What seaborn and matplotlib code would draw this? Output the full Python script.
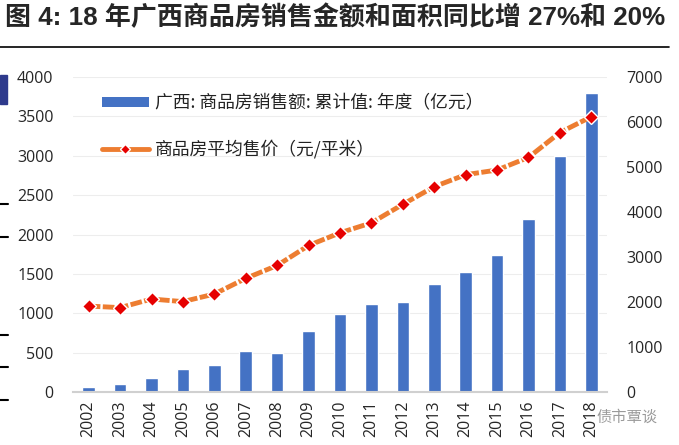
import numpy as np
import matplotlib
matplotlib.use('Agg')
import matplotlib.pyplot as plt
import seaborn as sns
from matplotlib.patches import Patch, Rectangle
from matplotlib.lines import Line2D

# data
years = ['2002', '2003', '2004', '2005', '2006', '2007', '2008', '2009', '2010',
         '2011', '2012', '2013', '2014', '2015', '2016', '2017', '2018']
sales = [65, 100, 175, 290, 340, 515, 500, 775, 987,
         1114, 1143, 1376, 1523, 1734, 2199, 3000, 3801]
price = [1910, 1876, 2067, 2009, 2178, 2525, 2813, 3256, 3538,
         3759, 4171, 4563, 4829, 4933, 5213, 5766, 6118]

bar_label = '广西: 商品房销售额: 累计值: 年度（亿元）'
line_label = '商品房平均售价（元/平米）'
title = '图 4: 18 年广西商品房销售金额和面积同比增 27%和 20%'

sns.set_style('white')
plt.rcParams['font.family'] = ['Open Sans', 'Noto Sans CJK SC', 'DejaVu Sans']

fig = plt.figure(figsize=(6.79, 4.45), dpi=100)
ax = fig.add_axes([0.1075, 0.119, 0.7865, 0.708])

sns.barplot(x=years, y=sales, color='#4472C4', width=0.4, saturation=1, ax=ax)
ax.set_ylim(0, 4000)
ax.set_yticks(range(0, 4001, 500))
ax.set_xlim(-0.5, len(years) - 0.5)
ax.grid(axis='y', color='#EDEDED', lw=0.8)
ax.set_axisbelow(True)
for s in ['top', 'right', 'left']:
    ax.spines[s].set_visible(False)
ax.spines['bottom'].set_color('#D0D0D0')
ax.spines['bottom'].set_linewidth(1.5)
ax.tick_params(axis='x', rotation=90, labelsize=11.5, length=0, pad=6)
ax.tick_params(axis='y', labelsize=11.5, length=0, pad=14)
# category boundary ticks on the x axis
ax.set_xticks(np.arange(-0.5, len(years), 1), minor=True)
ax.tick_params(axis='x', which='minor', length=5, color='#D0D0D0', width=1.5)

ax2 = ax.twinx()
sns.lineplot(x=np.arange(len(years)), y=price, ax=ax2, color='#ED7D31', lw=3.5,
             linestyle=(0, (2.4, 0.5)), marker='D', markersize=7,
             markerfacecolor='#E60000', markeredgecolor='white', markeredgewidth=1)
ax2.set_ylim(0, 7000)
ax2.set_yticks(range(0, 7001, 1000))
for s in ['top', 'right', 'left', 'bottom']:
    ax2.spines[s].set_visible(False)
ax2.tick_params(axis='y', labelsize=11.5, length=0, pad=14)
ax2.set_ylabel('')
ax.set_ylabel('')

handles = [Patch(facecolor='#4472C4', edgecolor='none'),
           Line2D([], [], color='#ED7D31', lw=3.5, marker='D', markersize=5,
                  markerfacecolor='#E60000', markeredgecolor='white')]
leg = ax.legend(handles, [bar_label, line_label], loc='upper left',
                bbox_to_anchor=(0.025, 0.995), frameon=False,
                handlelength=2.6, handleheight=0.5, labelspacing=1.55, handletextpad=0.35,
                prop={'family': ['Noto Sans CJK SC'], 'size': 12.8})
for t in leg.get_texts():
    t.set_color('#222222')

fig.text(0.008, 0.962, title, fontsize=18.7, fontweight='bold', va='center', ha='left',
         family=['Liberation Sans', 'Noto Sans CJK SC'])
fig.add_artist(Line2D([0.0, 0.985], [0.895, 0.895], color='black', lw=1.2))

# cropped remnants at the left edge of the reference
fig.add_artist(Rectangle((0, 1 - 104 / 445), 7 / 679, 29 / 445, color='#2E3A8C',
                         transform=fig.transFigure))
for yy in [204, 237, 335, 367, 400]:
    fig.add_artist(Line2D([0, 8 / 679], [1 - yy / 445] * 2, color='black', lw=1.5))

fig.text(0.878, 0.063, '债市覃谈', fontsize=11, color='#9A9A9A', ha='left', va='center',
         family=['Noto Sans CJK SC'])

plt.savefig('out.png', dpi=100)
